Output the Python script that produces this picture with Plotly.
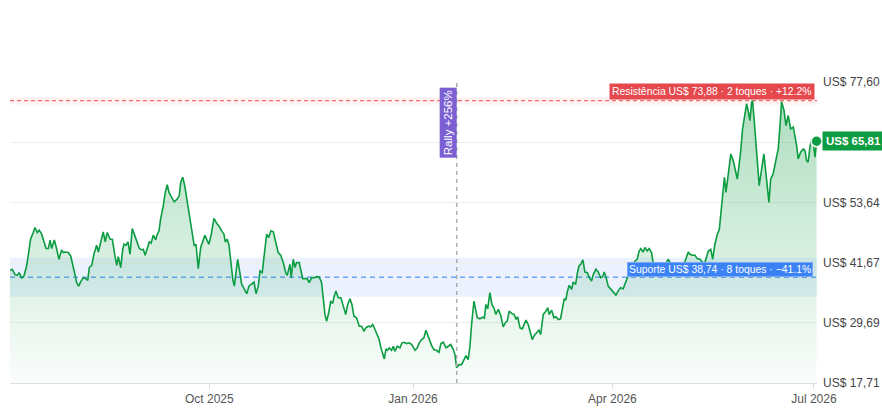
import pandas as pd
import plotly.graph_objects as go

# ---------------- data ----------------
START_DATE = "2025-07-03"

day_offset = [
    0.0, 1.0, 2.3, 3.3, 4.1, 5.3, 6.3, 7.5, 8.3, 9.3,
    10.5, 11.3, 12.3, 13.2, 14.3, 15.4, 16.3, 17.3, 18.1, 18.8,
    20.0, 21.1, 22.1, 23.3, 24.1, 24.8, 26.3, 27.4, 28.6, 29.5,
    30.1, 31.0, 32.1, 33.1, 34.3, 35.1, 35.8, 36.9, 37.9, 39.1,
    39.9, 41.0, 42.1, 43.0, 43.9, 45.2, 46.2, 47.4, 48.2, 48.9,
    50.0, 50.9, 51.5, 52.4, 53.3, 54.2, 55.2, 56.4, 57.5, 58.4,
    59.5, 60.2, 61.0, 62.0, 62.9,
    63.7, 64.7, 65.8, 66.5, 67.3, 68.0, 69.2, 70.1, 71.0, 71.8,
    73.0, 74.2, 75.5, 76.4, 77.1, 78.0, 78.9, 80.1, 81.3, 82.3,
    83.2, 84.0, 85.0, 86.1, 87.0, 88.0, 89.1, 89.8, 90.9, 92.1,
    93.3, 94.5, 95.6, 96.6, 97.2, 98.1, 98.9, 99.6, 100.6, 101.3,
    102.0, 102.8, 103.8, 104.6, 105.7, 106.9, 107.9, 109.1, 110.2, 111.1,
    112.1, 112.9, 113.9, 115.1, 115.9, 116.8, 117.8, 118.9, 120.0, 121.1,
    122.2, 123.4, 124.5, 125.2, 126.4,
    127.0, 127.9, 128.7, 129.4, 130.6, 131.4, 132.2, 133.3, 134.2, 135.1,
    136.2, 137.4, 138.5, 139.6, 140.7, 141.5, 142.2, 143.0, 143.9, 144.8,
    145.7, 146.4, 147.2, 148.2, 149.4, 150.5, 151.6, 152.5, 153.5, 154.4,
    155.3, 156.5, 157.7, 158.8, 159.8, 160.7, 161.8, 162.9, 163.8, 164.8,
    165.8, 166.7, 167.5, 168.3, 169.0, 169.8, 170.4, 171.3, 172.3, 173.1,
    173.8, 174.9, 176.1, 177.0, 177.9, 179.1, 180.3, 181.4, 182.9, 183.9,
    184.8, 185.9, 186.9, 187.8, 188.6, 189.6,
    190.4, 191.4, 192.7, 193.7, 194.6, 195.6, 196.9, 197.9, 199.0, 200.2,
    200.9, 201.7, 202.7, 203.9, 205.0, 205.9, 206.9, 207.7, 208.5, 209.5,
    210.4, 211.0, 212.2, 213.4, 214.2, 214.9, 215.7, 216.7, 217.6, 218.5,
    219.4, 220.5, 221.6, 222.7, 223.8, 224.5, 225.4, 226.5, 227.6, 228.5,
    229.2, 230.3, 231.3, 232.1, 233.0, 234.0, 234.8, 235.8, 236.7, 237.8,
    238.8, 239.6, 240.8, 242.0, 242.8, 243.5, 244.6, 245.6, 246.5, 247.6,
    248.6,
    249.5, 250.3, 251.0, 251.6, 252.5, 253.6, 254.3, 255.4, 256.1, 256.9,
    257.7, 258.7, 259.6, 260.7, 261.6, 262.6, 263.4, 264.6, 265.6, 266.7,
    267.6, 268.3, 269.1, 270.1, 271.4, 272.4, 273.6, 274.6, 275.7, 276.9,
    277.7, 278.4, 279.9, 282.2, 283.2, 284.1, 284.8, 285.9, 286.7, 287.7,
    288.6, 289.7, 290.4, 292.1, 293.9, 295.3, 297.2, 298.0, 299.8, 301.6,
    303.4, 304.8, 306.3, 307.0, 308.2, 309.3, 310.3, 311.5, 312.8, 313.8,
    315.3, 316.4, 317.3, 318.3, 319.4, 320.3, 320.9, 321.8, 322.6, 323.3,
    324.4, 325.5, 326.6, 327.5, 328.4, 329.1, 329.9, 330.8, 331.7, 332.6,
    333.3, 334.1, 334.9, 335.3, 336.0, 336.8, 337.4, 338.3, 339.4, 340.4,
    341.3, 342.1, 342.7, 343.5, 344.6, 345.8, 346.9, 347.7, 348.4, 349.5,
    350.4, 351.4, 352.5, 353.7, 354.4, 355.2, 355.9, 357.0, 358.2, 359.0,
    359.7, 360.4, 361.2, 362.0, 362.7, 363.5, 364.2,
]

price = [
    40.13, 40.33, 39.27, 39.13, 39.67, 38.59, 38.99, 40.99, 43.32, 46.32,
    47.65, 48.65, 47.65, 48.12, 47.32, 45.98, 44.46, 44.46, 46.12, 44.46,
    46.18, 44.32, 42.33, 44.18, 43.66, 43.78, 43.66, 42.99, 40.99, 38.99,
    37.67, 36.99, 37.99, 38.67, 38.47, 38.13, 40.67, 41.13, 43.32, 45.12,
    43.78, 45.78, 47.77, 45.78, 47.65, 46.32, 46.32, 42.99, 41.13, 42.86,
    40.67, 44.32, 45.32, 45.12, 45.78, 43.32, 48.45, 46.98, 45.78, 44.46,
    44.18, 44.32, 43.12, 44.32, 45.78,
    45.52, 47.12, 46.18, 47.32, 47.98, 50.31, 52.97, 55.64, 57.16, 55.64,
    54.64, 53.76, 54.30, 54.96, 57.64, 58.64, 56.96, 53.65, 50.31, 46.98,
    44.98, 45.32, 40.47, 44.66, 45.78, 47.12, 45.98, 45.32, 47.32, 50.45,
    49.51, 48.85, 47.98, 47.32, 45.78, 46.32, 45.12, 41.67, 38.33, 36.99,
    39.67, 42.33, 39.67, 37.34, 36.48, 35.48, 36.99, 37.47, 37.80, 35.48,
    36.99, 39.99, 39.67, 44.32, 47.32, 46.66, 47.98, 47.78, 45.66, 43.66,
    43.12, 41.67, 39.67, 39.13, 41.33,
    38.67, 42.33, 40.67, 41.67, 41.67, 39.99, 38.47, 38.47, 38.47, 37.67,
    38.67, 38.67, 38.87, 38.79, 37.67, 34.34, 31.35, 30.01, 31.68, 34.00,
    33.54, 35.00, 36.00, 34.68, 34.68, 33.00, 31.35, 33.34, 34.48, 33.34,
    31.01, 30.69, 29.01, 29.01, 28.01, 28.69, 29.01, 28.89, 29.35, 28.35,
    27.15, 26.36, 24.70, 23.70, 22.50, 24.50, 24.22, 24.70, 24.22, 25.02,
    24.02, 25.02, 24.70, 25.70, 25.82, 25.56, 25.70, 25.36, 24.22, 24.70,
    25.70, 26.36, 26.70, 28.21, 27.15, 26.02,
    25.16, 24.36, 24.16, 23.82, 25.56, 25.82, 24.70, 25.02, 25.36, 24.36,
    23.36, 20.75, 21.36, 21.36, 22.36, 23.16, 22.36, 25.02, 29.69, 34.00,
    32.00, 30.69, 30.49, 30.81, 30.61, 33.34, 32.48, 35.68, 33.34, 32.68,
    31.35, 32.35, 31.15, 28.89, 29.81, 30.01, 32.00, 31.55, 31.35, 30.35,
    30.89, 28.69, 28.49, 29.35, 30.21, 29.35, 28.01, 26.36, 27.15, 27.69,
    28.21, 27.35, 31.35, 32.00, 32.68, 31.35, 32.21, 30.69, 30.89, 30.35,
    30.49,
    32.68, 34.48, 34.20, 35.80, 37.14, 36.34, 37.80, 37.34, 39.33, 40.99,
    41.33, 42.19, 39.79, 39.67, 38.67, 37.99, 39.33, 40.33, 39.79, 38.67,
    38.87, 39.79, 38.87, 36.99, 36.34, 35.80, 35.20, 36.00, 36.68, 36.48,
    37.34, 38.47, 39.93, 41.99, 42.33, 43.98, 44.46, 43.78, 44.66, 43.98,
    44.46, 43.66, 41.67, 39.93, 40.33, 40.73, 42.33, 41.79, 40.33, 39.93,
    41.13, 41.93, 43.78, 43.32, 43.12, 43.12, 42.46, 42.33, 41.67, 41.67,
    43.98, 44.32, 42.33, 45.32, 47.32, 48.31, 50.97, 54.96, 58.64, 55.64,
    58.96, 63.29, 61.95, 60.29, 58.30, 60.63, 63.63, 68.28, 70.93, 73.27,
    71.93, 69.93, 73.61, 73.88, 70.27, 65.62, 62.29, 56.96, 60.29, 63.29,
    59.63, 56.30, 53.65, 58.30, 59.30, 61.95, 64.29, 68.94, 73.70, 71.93,
    68.94, 70.93, 68.28, 68.62, 66.94, 64.94, 62.29, 63.63, 64.29, 63.95,
    61.95, 61.63, 64.62, 66.28, 65.62, 62.63, 65.81,
]

resistance = 73.88
resistance_touches = 2
resistance_pct = "+12.2%"
support = 38.74
support_touches = 8
support_pct = "\u221241.1%"
rally_pct = "+256%"

y_ticks = [17.71, 29.69, 41.67, 53.64, 65.62, 77.60]
x_ticks = ["2025-10-01", "2026-01-01", "2026-04-01", "2026-07-01"]
x_tick_labels = ["Oct 2025", "Jan 2026", "Apr 2026", "Jul 2026"]
x_span_days = 364.4

# ---------------- helpers ----------------
def brl(v):
    return "US$ " + f"{v:.2f}".replace(".", ",")

GREEN = "#0c9c41"
FONT = "Liberation Sans, Arial, sans-serif"

start = pd.Timestamp(START_DATE)
dates = start + pd.to_timedelta(day_offset, unit="D")
last_price = price[-1]
i_min = min(range(len(price)), key=lambda i: price[i])
min_date = dates[i_min]

# the price badge covers the tick label nearest to the last price
y_tick_text = ["" if abs(v - last_price) < 2 else brl(v) for v in y_ticks]

fig = go.Figure()

fig.add_trace(go.Scatter(
    x=dates, y=price, mode="lines",
    line=dict(color=GREEN, width=1.6),
    fill="tozeroy",
    fillgradient=dict(
        type="vertical",
        colorscale=[[0, "rgba(12,156,65,0.02)"], [1, "rgba(12,156,65,0.35)"]],
        start=y_ticks[0], stop=y_ticks[-1],
    ),
    hoverinfo="skip", showlegend=False,
))

fig.add_trace(go.Scatter(
    x=[dates[-1]], y=[last_price], mode="markers",
    marker=dict(color=GREEN, size=11, line=dict(color="white", width=1.5)),
    cliponaxis=False, hoverinfo="skip", showlegend=False,
))

# bands and levels
fig.add_shape(type="rect", xref="paper", x0=0, x1=1, yref="y",
              y0=support * 0.9, y1=support * 1.1,
              fillcolor="rgba(59,130,246,0.10)", line_width=0, layer="between")
fig.add_shape(type="rect", xref="paper", x0=0, x1=1, yref="y",
              y0=resistance * 0.99, y1=resistance * 1.01,
              fillcolor="rgba(239,68,68,0.07)", line_width=0, layer="between")
fig.add_shape(type="line", xref="paper", x0=0, x1=1, yref="y",
              y0=resistance, y1=resistance,
              line=dict(color="rgba(239,68,68,0.75)", width=1.2, dash="4px,3px"),
              layer="between")
fig.add_shape(type="line", xref="paper", x0=0, x1=1, yref="y",
              y0=support, y1=support,
              line=dict(color="rgba(59,130,246,0.7)", width=1.5, dash="5px,4px"),
              layer="between")
fig.add_shape(type="line", xref="x", x0=min_date, x1=min_date, yref="paper",
              y0=0, y1=1,
              line=dict(color="#aaaaaa", width=1.5, dash="4px,4px"),
              layer="above")

# labels
fig.add_annotation(
    xref="paper", x=1, xanchor="right", xshift=-2,
    yref="y", y=resistance, yanchor="bottom", yshift=1,
    text=f"Resistência {brl(resistance)} · {resistance_touches} toques · {resistance_pct}",
    showarrow=False, bgcolor="#e5484d", borderpad=2,
    font=dict(color="white", size=10.4, family=FONT),
)
fig.add_annotation(
    xref="paper", x=1, xanchor="right", xshift=-4,
    yref="y", y=support, yanchor="bottom", yshift=0,
    text=f"Suporte {brl(support)} · {support_touches} toques · {support_pct}",
    showarrow=False, bgcolor="#3b82f6", bordercolor="#7fa8f2", borderwidth=1,
    borderpad=1,
    font=dict(color="white", size=10.4, family=FONT),
)
fig.add_annotation(
    xref="paper", x=1, xanchor="left", xshift=5,
    yref="y", y=last_price, yanchor="middle",
    text=f"<b>{brl(last_price)}</b>",
    showarrow=False, bgcolor=GREEN, borderpad=3,
    font=dict(color="white", size=11.5, family=FONT),
)
fig.add_annotation(
    xref="x", x=min_date, xanchor="right", xshift=0,
    yref="paper", y=1, yanchor="top", yshift=-5,
    text=f"Rally {rally_pct}", textangle=-90,
    showarrow=False, bgcolor="#7b5fd3", borderpad=2,
    font=dict(color="white", size=11.5, family=FONT),
)

fig.update_layout(
    width=882, height=420,
    margin=dict(l=10, r=65, t=82, b=37),
    paper_bgcolor="white", plot_bgcolor="white",
    font=dict(family=FONT, size=12, color="#555"),
    showlegend=False,
    xaxis=dict(
        type="date", automargin=False,
        range=[start, start + pd.Timedelta(days=x_span_days)],
        tickvals=x_ticks, ticktext=x_tick_labels,
        showgrid=False, zeroline=False,
        showline=True, linecolor="#dddddd", linewidth=1,
        ticks="outside", ticklen=5, tickcolor="#dddddd",
        tickfont=dict(size=12, color="#555"),
    ),
    yaxis=dict(
        side="right", automargin=False,
        range=[y_ticks[0], y_ticks[-1]],
        tickvals=y_ticks, ticktext=y_tick_text,
        showgrid=True, gridcolor="#eeeeee", gridwidth=1,
        zeroline=False, showline=False, ticks="",
        ticklabelstandoff=5,
        tickfont=dict(size=12, color="#444"),
    ),
)

fig.write_html("out.html")
